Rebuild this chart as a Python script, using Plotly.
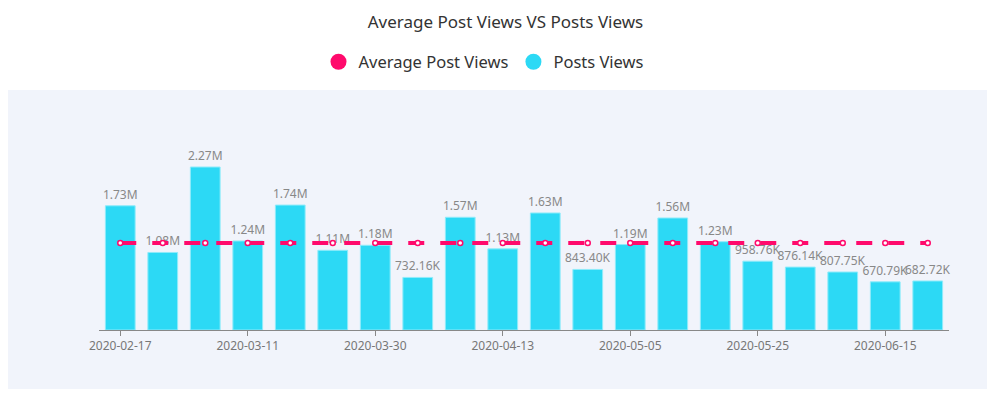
import plotly.graph_objects as go

categories = ["2020-02-17", "2020-02-24", "2020-03-02", "2020-03-11", "2020-03-16",
              "2020-03-23", "2020-03-30", "2020-04-03", "2020-04-08", "2020-04-13",
              "2020-04-20", "2020-04-27", "2020-05-05", "2020-05-11", "2020-05-18",
              "2020-05-25", "2020-06-01", "2020-06-08", "2020-06-15", "2020-06-22"]
post_views = [1730000, 1080000, 2270000, 1240000, 1740000, 1110000, 1180000, 732160,
              1570000, 1130000, 1630000, 843400, 1190000, 1560000, 1230000, 958760,
              876140, 807750, 670790, 682720]
post_labels = ["1.73M", "1.08M", "2.27M", "1.24M", "1.74M", "1.11M", "1.18M", "732.16K",
               "1.57M", "1.13M", "1.63M", "843.40K", "1.19M", "1.56M", "1.23M", "958.76K",
               "876.14K", "807.75K", "670.79K", "682.72K"]
avg_value = 1211600
avg_views = [avg_value] * len(categories)
tick_labels = ["2020-02-17", "2020-03-11", "2020-03-30", "2020-04-13",
               "2020-05-05", "2020-05-25", "2020-06-15"]

PINK = "#FF0A6C"
CYAN = "#2CD9F5"
FONT = "Noto Sans"

OFF = 8  # page body offset
L, R = 99 - OFF, 949 - OFF
top_px, base_px = 100 - OFF, 330 - OFF
W = R - L
h = base_px - top_px

fig = go.Figure()
fig.add_trace(go.Bar(
    x=categories, y=post_views, text=post_labels, textposition="outside",
    texttemplate="%{text}", cliponaxis=False, constraintext="none",
    textfont=dict(color="#888888", size=12, family=FONT),
    marker=dict(color=CYAN, line=dict(color="#8FEBFA", width=1)),
    width=0.7, showlegend=False, name="Posts Views"))
fig.add_trace(go.Scatter(
    x=categories, y=avg_views, mode="lines+markers", showlegend=False,
    name="Average Post Views",
    line=dict(color=PINK, width=4, dash="16px,16px"),
    marker=dict(symbol="circle", size=5, color="white", line=dict(color=PINK, width=1.5))))
# legend entries
fig.add_trace(go.Scatter(x=[None], y=[None], mode="markers", name="Average Post Views",
                         marker=dict(color=PINK, size=16, symbol="circle")))
fig.add_trace(go.Scatter(x=[None], y=[None], mode="markers", name="Posts Views",
                         marker=dict(color=CYAN, size=16, symbol="circle")))

fig.update_layout(
    width=995, height=397,
    margin=dict(l=L, r=995 - R, t=top_px, b=397 - base_px),
    paper_bgcolor="white", plot_bgcolor="rgba(0,0,0,0)",
    font=dict(family=FONT, color="#333333"),
    title=dict(text="Average Post Views VS Posts Views", x=0.5, xanchor="center",
               y=1 - (22 - OFF) / 397, yanchor="middle", font=dict(size=17, color="#333333")),
    legend=dict(orientation="h", x=0.5 - 40 / W, xanchor="center",
                y=1 + (top_px - (62 - OFF)) / h,
                yanchor="middle", font=dict(size=16.5, color="#333333"),
                itemwidth=30, tracegroupgap=0),
    shapes=[dict(type="rect", xref="paper", yref="paper", layer="below",
                 x0=(7 - OFF - L) / W, x1=(989 - OFF - L) / W,
                 y0=(base_px - (389 - OFF)) / h, y1=(base_px - (90 - OFF)) / h,
                 fillcolor="#F1F4FB", line=dict(width=0))],
)
fig.update_xaxes(type="category", tickvals=tick_labels, ticktext=tick_labels,
                 range=[-0.5, len(categories) - 0.5],
                 showline=True, linecolor="#888888", linewidth=1,
                 ticks="outside", ticklen=5, tickcolor="#888888",
                 tickfont=dict(size=12, color="#777777", family=FONT),
                 showgrid=False, zeroline=False)
fig.update_yaxes(visible=False, range=[0, h / 71.8 * 1e6], showgrid=False, zeroline=False)

fig.write_html("out.html")
